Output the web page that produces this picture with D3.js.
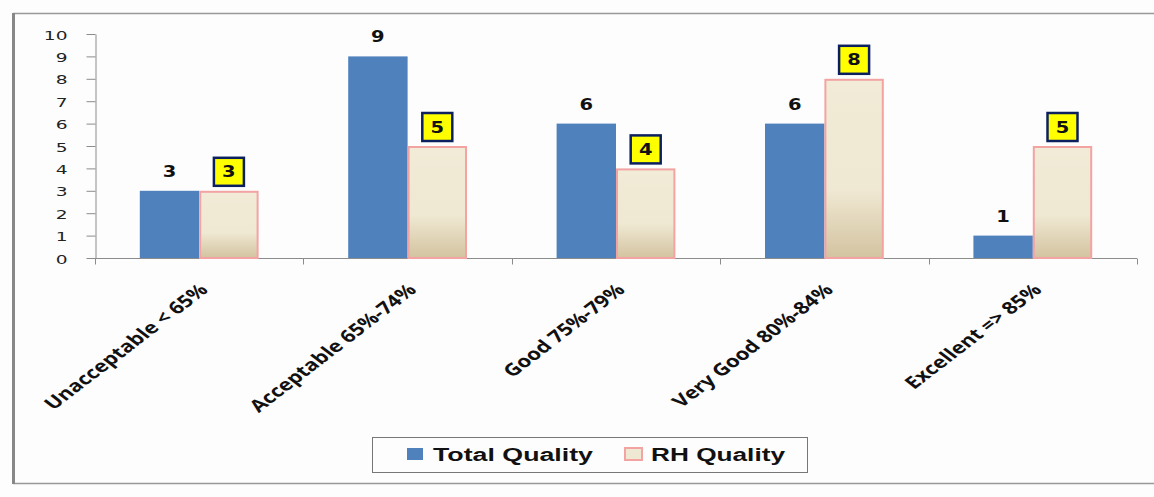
<!DOCTYPE html>
<html>
<head>
<meta charset="utf-8">
<script src="https://cdn.jsdelivr.net/npm/d3@7"></script>
<style>
  html, body { margin: 0; padding: 0; background: #fdfdfd; }
  svg { display: block; }
</style>
</head>
<body>
<svg id="chart" width="1154" height="497"></svg>
<script>
// Quality band counts
const categories = ["Unacceptable < 65%", "Acceptable 65%-74%", "Good 75%-79%", "Very Good 80%-84%", "Excellent => 85%"];
const totalQuality = [3, 9, 6, 6, 1];
const rhQuality = [3, 5, 4, 8, 5];
const seriesNames = ["Total Quality", "RH Quality"];
const yTicks = [0, 1, 2, 3, 4, 5, 6, 7, 8, 9, 10];

const svg = d3.select("#chart");
const W = 1154, H = 497;
const plot = { left: 95, right: 1137, top: 34, bottom: 258 };
const stretch = 1.3; // horizontal stretch applied to text

svg.append("rect").attr("width", W).attr("height", H).attr("fill", "#fdfdfd");

// Frame lines
svg.append("line").attr("x1", 13).attr("x2", W).attr("y1", 13.5).attr("y2", 13.5)
  .attr("stroke", "#999").attr("stroke-width", 1.5);
svg.append("line").attr("x1", 13).attr("x2", W).attr("y1", 483.5).attr("y2", 483.5)
  .attr("stroke", "#999").attr("stroke-width", 1.5);
svg.append("line").attr("x1", 13.5).attr("x2", 13.5).attr("y1", 13).attr("y2", 484)
  .attr("stroke", "#888").attr("stroke-width", 3);

const defs = svg.append("defs");
const grad = defs.append("linearGradient").attr("id", "rhFill")
  .attr("x1", 0).attr("y1", 0).attr("x2", 0).attr("y2", 1);
grad.append("stop").attr("offset", "0").attr("stop-color", "#f1ebd7");
grad.append("stop").attr("offset", "0.62").attr("stop-color", "#efe8d2");
grad.append("stop").attr("offset", "1").attr("stop-color", "#d3c3a0");

const x0 = d3.scaleBand().domain(categories).range([plot.left, plot.right]).paddingInner(0).paddingOuter(0);
const inner = 0.285;
const x1 = d3.scaleBand().domain(seriesNames)
  .range([x0.bandwidth() * (0.5 - inner), x0.bandwidth() * (0.5 + inner)]);
const y = d3.scaleLinear().domain([0, 10]).range([plot.bottom, plot.top]);

// Y axis
const yAxis = svg.append("g").attr("transform", `translate(${plot.left + 0.5},0)`)
  .call(d3.axisLeft(y).tickValues(yTicks).tickSize(9).tickSizeOuter(0).tickFormat(d3.format("d")));
yAxis.select(".domain").attr("stroke", "#8c8c8c");
yAxis.selectAll(".tick line").attr("stroke", "#8c8c8c");
yAxis.selectAll(".tick text").each(function(d) {
  const t = d3.select(this);
  t.attr("x", null).attr("dy", null)
    .attr("transform", `translate(-28,5) scale(1.55,1)`)
    .attr("font-family", "DejaVu Sans").attr("font-size", 12).attr("fill", "#222")
    .attr("text-anchor", "end");
});

// X axis
const xAxisG = svg.append("g").attr("transform", `translate(0,${plot.bottom + 0.5})`);
xAxisG.append("line").attr("x1", plot.left).attr("x2", plot.right).attr("stroke", "#8c8c8c");
const bounds = categories.map(c => x0(c)).concat([plot.right]);
xAxisG.selectAll("line.tick").data(bounds).join("line").attr("class", "tick")
  .attr("x1", d => Math.round(d) + 0.5).attr("x2", d => Math.round(d) + 0.5)
  .attr("y1", 0).attr("y2", 6).attr("stroke", "#8c8c8c");

// Category labels
svg.append("g").selectAll("g").data(categories).join("g")
  .attr("transform", d => `translate(${x0(d) + x0.bandwidth() / 2 + 10},${plot.bottom + 33}) scale(${stretch},1) rotate(-45)`)
  .append("text")
  .attr("text-anchor", "end")
  .attr("font-family", "Open Sans").attr("font-weight", 700).attr("font-size", 17)
  .attr("fill", "#111")
  .text(d => d);

// Bars
const groups = svg.append("g").selectAll("g").data(categories).join("g")
  .attr("transform", d => `translate(${x0(d)},0)`);

groups.append("rect")
  .attr("x", x1("Total Quality"))
  .attr("y", (d, i) => y(totalQuality[i]))
  .attr("width", x1.bandwidth())
  .attr("height", (d, i) => y(0) - y(totalQuality[i]))
  .attr("fill", "#4f81bd");

groups.append("rect")
  .attr("x", x1("RH Quality") + 1)
  .attr("y", (d, i) => y(rhQuality[i]) + 1)
  .attr("width", x1.bandwidth() - 2)
  .attr("height", (d, i) => y(0) - y(rhQuality[i]) - 1)
  .attr("fill", "url(#rhFill)")
  .attr("stroke", "#f4a3a3").attr("stroke-width", 2);

// Total Quality value labels
groups.append("text")
  .attr("transform", (d, i) => `translate(${x1("Total Quality") + x1.bandwidth() / 2},${y(totalQuality[i]) - 14}) scale(${stretch},1)`)
  .attr("text-anchor", "middle")
  .attr("font-family", "DejaVu Sans").attr("font-weight", "bold").attr("font-size", 15)
  .attr("fill", "#111")
  .text((d, i) => totalQuality[i]);

// RH Quality value labels in boxes
const boxW = 30, boxH = 28;
const rhLab = groups.append("g")
  .attr("transform", (d, i) => `translate(${x1("RH Quality") + x1.bandwidth() / 2},${y(rhQuality[i]) - 5 - boxH})`);
rhLab.append("rect")
  .attr("x", -boxW / 2).attr("y", 0).attr("width", boxW).attr("height", boxH)
  .attr("fill", "#ffff00").attr("stroke", "#0c2060").attr("stroke-width", 2.5);
rhLab.append("text")
  .attr("transform", `translate(0,${boxH / 2 + 5.5}) scale(${stretch},1)`)
  .attr("text-anchor", "middle")
  .attr("font-family", "DejaVu Sans").attr("font-weight", "bold").attr("font-size", 15)
  .attr("fill", "#111")
  .text((d, i) => rhQuality[i]);

// Legend
const legend = svg.append("g");
legend.append("rect").attr("x", 372.5).attr("y", 437.5).attr("width", 435).attr("height", 35)
  .attr("fill", "#fdfdfd").attr("stroke", "#777").attr("stroke-width", 1);
legend.append("rect").attr("x", 407).attr("y", 448).attr("width", 16).attr("height", 12).attr("fill", "#4f81bd");
legend.append("rect").attr("x", 625).attr("y", 448).attr("width", 17).attr("height", 12)
  .attr("fill", "#efe8d2").attr("stroke", "#f4a3a3").attr("stroke-width", 2);
legend.append("text").attr("x", 433).attr("y", 461)
  .attr("font-family", "Liberation Sans").attr("font-weight", "bold").attr("font-size", 18)
  .attr("textLength", 160).attr("lengthAdjust", "spacingAndGlyphs").attr("fill", "#111")
  .text(seriesNames[0]);
legend.append("text").attr("x", 651).attr("y", 461)
  .attr("font-family", "Liberation Sans").attr("font-weight", "bold").attr("font-size", 18)
  .attr("textLength", 134).attr("lengthAdjust", "spacingAndGlyphs").attr("fill", "#111")
  .text(seriesNames[1]);
</script>
</body>
</html>
